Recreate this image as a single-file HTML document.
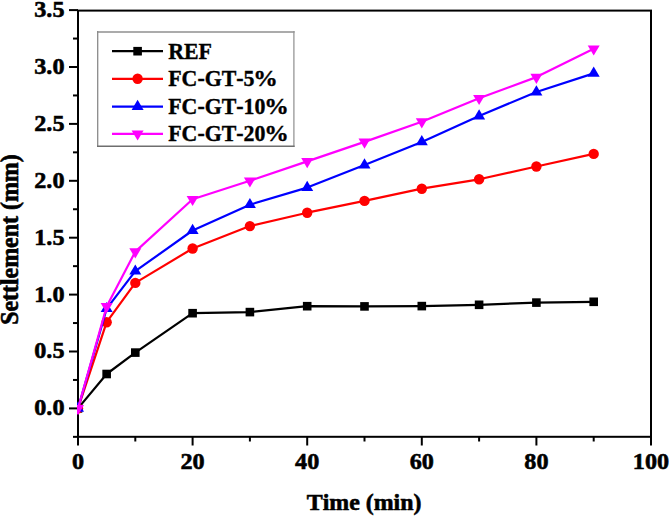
<!DOCTYPE html><html><head><meta charset="utf-8"><style>html,body{margin:0;padding:0;background:#fff;}svg{display:block;}</style></head><body>
<svg width="669" height="516" viewBox="0 0 669 516" font-family='"Liberation Serif", serif' font-weight="bold">
<rect width="669" height="516" fill="#fff"/>
<style>text{stroke:#000;stroke-width:0.6;paint-order:stroke;font-kerning:none;} .lg text{stroke-width:0.35;}</style>
<defs><clipPath id="pc"><rect x="77" y="0" width="600" height="438"/></clipPath></defs>
<line x1="69" y1="408.40" x2="78.00" y2="408.40" stroke="#000" stroke-width="2"/>
<text transform="translate(64.50,415.35) scale(1,0.950)" font-size="24.2" text-anchor="end">0.0</text>
<line x1="69" y1="351.50" x2="78.00" y2="351.50" stroke="#000" stroke-width="2"/>
<text transform="translate(64.50,358.45) scale(1,0.950)" font-size="24.2" text-anchor="end">0.5</text>
<line x1="69" y1="294.60" x2="78.00" y2="294.60" stroke="#000" stroke-width="2"/>
<text transform="translate(64.50,301.55) scale(1,0.950)" font-size="24.2" text-anchor="end">1.0</text>
<line x1="69" y1="237.70" x2="78.00" y2="237.70" stroke="#000" stroke-width="2"/>
<text transform="translate(64.50,244.65) scale(1,0.950)" font-size="24.2" text-anchor="end">1.5</text>
<line x1="69" y1="180.80" x2="78.00" y2="180.80" stroke="#000" stroke-width="2"/>
<text transform="translate(64.50,187.75) scale(1,0.950)" font-size="24.2" text-anchor="end">2.0</text>
<line x1="69" y1="123.90" x2="78.00" y2="123.90" stroke="#000" stroke-width="2"/>
<text transform="translate(64.50,130.85) scale(1,0.950)" font-size="24.2" text-anchor="end">2.5</text>
<line x1="69" y1="67.00" x2="78.00" y2="67.00" stroke="#000" stroke-width="2"/>
<text transform="translate(64.50,73.95) scale(1,0.950)" font-size="24.2" text-anchor="end">3.0</text>
<line x1="69" y1="10.10" x2="78.00" y2="10.10" stroke="#000" stroke-width="2"/>
<text transform="translate(64.50,17.05) scale(1,0.950)" font-size="24.2" text-anchor="end">3.5</text>
<line x1="73" y1="436.85" x2="78.00" y2="436.85" stroke="#000" stroke-width="2"/>
<line x1="73" y1="379.95" x2="78.00" y2="379.95" stroke="#000" stroke-width="2"/>
<line x1="73" y1="323.05" x2="78.00" y2="323.05" stroke="#000" stroke-width="2"/>
<line x1="73" y1="266.15" x2="78.00" y2="266.15" stroke="#000" stroke-width="2"/>
<line x1="73" y1="209.25" x2="78.00" y2="209.25" stroke="#000" stroke-width="2"/>
<line x1="73" y1="152.35" x2="78.00" y2="152.35" stroke="#000" stroke-width="2"/>
<line x1="73" y1="95.45" x2="78.00" y2="95.45" stroke="#000" stroke-width="2"/>
<line x1="73" y1="38.55" x2="78.00" y2="38.55" stroke="#000" stroke-width="2"/>
<line x1="78.00" y1="436.80" x2="78.00" y2="445.5" stroke="#000" stroke-width="2"/>
<text transform="translate(78.00,468.60) scale(1,0.950)" font-size="24.2" text-anchor="middle">0</text>
<line x1="192.60" y1="436.80" x2="192.60" y2="445.5" stroke="#000" stroke-width="2"/>
<text transform="translate(192.60,468.60) scale(1,0.950)" font-size="24.2" text-anchor="middle">20</text>
<line x1="307.20" y1="436.80" x2="307.20" y2="445.5" stroke="#000" stroke-width="2"/>
<text transform="translate(307.20,468.60) scale(1,0.950)" font-size="24.2" text-anchor="middle">40</text>
<line x1="421.80" y1="436.80" x2="421.80" y2="445.5" stroke="#000" stroke-width="2"/>
<text transform="translate(421.80,468.60) scale(1,0.950)" font-size="24.2" text-anchor="middle">60</text>
<line x1="536.40" y1="436.80" x2="536.40" y2="445.5" stroke="#000" stroke-width="2"/>
<text transform="translate(536.40,468.60) scale(1,0.950)" font-size="24.2" text-anchor="middle">80</text>
<line x1="651.00" y1="436.80" x2="651.00" y2="445.5" stroke="#000" stroke-width="2"/>
<text transform="translate(651.00,468.60) scale(1,0.950)" font-size="24.2" text-anchor="middle">100</text>
<line x1="135.30" y1="436.80" x2="135.30" y2="441.5" stroke="#000" stroke-width="2"/>
<line x1="249.90" y1="436.80" x2="249.90" y2="441.5" stroke="#000" stroke-width="2"/>
<line x1="364.50" y1="436.80" x2="364.50" y2="441.5" stroke="#000" stroke-width="2"/>
<line x1="479.10" y1="436.80" x2="479.10" y2="441.5" stroke="#000" stroke-width="2"/>
<line x1="593.70" y1="436.80" x2="593.70" y2="441.5" stroke="#000" stroke-width="2"/>
<rect x="78.00" y="10.60" width="573.00" height="426.20" fill="none" stroke="#000" stroke-width="2"/>
<text transform="translate(364.10,509.60) scale(1,1.000)" font-size="23.9" text-anchor="middle">Time (min)</text>
<text transform="translate(18.30,239.60) rotate(-90) scale(1,1.040)" font-size="23.9" text-anchor="middle">Settlement (mm)</text>
<g clip-path="url(#pc)">
<polyline points="78.00,408.40 106.65,374.00 135.30,352.60 192.60,313.20 249.90,312.10 307.20,306.20 364.50,306.40 421.80,306.10 479.10,304.80 536.40,302.60 593.70,301.80" fill="none" stroke="#000" stroke-width="2.2" stroke-linejoin="round"/>
<rect x="73.70" y="404.10" width="8.60" height="8.60" fill="#000"/>
<rect x="102.35" y="369.70" width="8.60" height="8.60" fill="#000"/>
<rect x="131.00" y="348.30" width="8.60" height="8.60" fill="#000"/>
<rect x="188.30" y="308.90" width="8.60" height="8.60" fill="#000"/>
<rect x="245.60" y="307.80" width="8.60" height="8.60" fill="#000"/>
<rect x="302.90" y="301.90" width="8.60" height="8.60" fill="#000"/>
<rect x="360.20" y="302.10" width="8.60" height="8.60" fill="#000"/>
<rect x="417.50" y="301.80" width="8.60" height="8.60" fill="#000"/>
<rect x="474.80" y="300.50" width="8.60" height="8.60" fill="#000"/>
<rect x="532.10" y="298.30" width="8.60" height="8.60" fill="#000"/>
<rect x="589.40" y="297.50" width="8.60" height="8.60" fill="#000"/>
<polyline points="78.00,408.40 106.65,322.20 135.30,282.90 192.60,248.50 249.90,226.10 307.20,212.70 364.50,200.90 421.80,188.70 479.10,179.30 536.40,166.50 593.70,153.90" fill="none" stroke="#f00" stroke-width="2.2" stroke-linejoin="round"/>
<circle cx="78.00" cy="408.40" r="5.20" fill="#f00"/>
<circle cx="106.65" cy="322.20" r="5.20" fill="#f00"/>
<circle cx="135.30" cy="282.90" r="5.20" fill="#f00"/>
<circle cx="192.60" cy="248.50" r="5.20" fill="#f00"/>
<circle cx="249.90" cy="226.10" r="5.20" fill="#f00"/>
<circle cx="307.20" cy="212.70" r="5.20" fill="#f00"/>
<circle cx="364.50" cy="200.90" r="5.20" fill="#f00"/>
<circle cx="421.80" cy="188.70" r="5.20" fill="#f00"/>
<circle cx="479.10" cy="179.30" r="5.20" fill="#f00"/>
<circle cx="536.40" cy="166.50" r="5.20" fill="#f00"/>
<circle cx="593.70" cy="153.90" r="5.20" fill="#f00"/>
<polyline points="78.00,408.40 106.65,308.70 135.30,271.20 192.60,230.50 249.90,204.70 307.20,187.60 364.50,165.10 421.80,141.90 479.10,116.00 536.40,92.00 593.70,73.40" fill="none" stroke="#00f" stroke-width="2.2" stroke-linejoin="round"/>
<polygon points="78.00,401.60 72.00,411.80 84.00,411.80" fill="#00f"/>
<polygon points="106.65,301.90 100.65,312.10 112.65,312.10" fill="#00f"/>
<polygon points="135.30,264.40 129.30,274.60 141.30,274.60" fill="#00f"/>
<polygon points="192.60,223.70 186.60,233.90 198.60,233.90" fill="#00f"/>
<polygon points="249.90,197.90 243.90,208.10 255.90,208.10" fill="#00f"/>
<polygon points="307.20,180.80 301.20,191.00 313.20,191.00" fill="#00f"/>
<polygon points="364.50,158.30 358.50,168.50 370.50,168.50" fill="#00f"/>
<polygon points="421.80,135.10 415.80,145.30 427.80,145.30" fill="#00f"/>
<polygon points="479.10,109.20 473.10,119.40 485.10,119.40" fill="#00f"/>
<polygon points="536.40,85.20 530.40,95.40 542.40,95.40" fill="#00f"/>
<polygon points="593.70,66.60 587.70,76.80 599.70,76.80" fill="#00f"/>
<polyline points="78.00,408.40 106.65,306.50 135.30,251.60 192.60,199.30 249.90,180.80 307.20,161.40 364.50,141.90 421.80,121.70 479.10,98.30 536.40,77.10 593.70,48.80" fill="none" stroke="#f0f" stroke-width="2.2" stroke-linejoin="round"/>
<polygon points="72.00,405.00 84.00,405.00 78.00,415.20" fill="#f0f"/>
<polygon points="100.65,303.10 112.65,303.10 106.65,313.30" fill="#f0f"/>
<polygon points="129.30,248.20 141.30,248.20 135.30,258.40" fill="#f0f"/>
<polygon points="186.60,195.90 198.60,195.90 192.60,206.10" fill="#f0f"/>
<polygon points="243.90,177.40 255.90,177.40 249.90,187.60" fill="#f0f"/>
<polygon points="301.20,158.00 313.20,158.00 307.20,168.20" fill="#f0f"/>
<polygon points="358.50,138.50 370.50,138.50 364.50,148.70" fill="#f0f"/>
<polygon points="415.80,118.30 427.80,118.30 421.80,128.50" fill="#f0f"/>
<polygon points="473.10,94.90 485.10,94.90 479.10,105.10" fill="#f0f"/>
<polygon points="530.40,73.70 542.40,73.70 536.40,83.90" fill="#f0f"/>
<polygon points="587.70,45.40 599.70,45.40 593.70,55.60" fill="#f0f"/>
</g>
<line x1="97" y1="32.0" x2="294.6" y2="32.0" stroke="#ababab" stroke-width="1.8"/>
<line x1="97.7" y1="31.1" x2="97.7" y2="146.9" stroke="#8a8a8a" stroke-width="1.3"/>
<line x1="293.9" y1="31.1" x2="293.9" y2="146.9" stroke="#969696" stroke-width="1.3"/>
<line x1="97" y1="146.2" x2="294.6" y2="146.2" stroke="#6e6e6e" stroke-width="1.4"/>
<g class="lg">
<line x1="112" y1="51.20" x2="163" y2="51.20" stroke="#000" stroke-width="2.2"/>
<rect x="133.30" y="46.90" width="8.60" height="8.60" fill="#000"/>
<text transform="translate(168.20,58.80) scale(1,1.030)" font-size="21.9" text-anchor="start">REF</text>
<line x1="112" y1="78.80" x2="163" y2="78.80" stroke="#f00" stroke-width="2.2"/>
<circle cx="137.60" cy="78.80" r="5.20" fill="#f00"/>
<text transform="translate(168.20,86.40) scale(1,1.030)" font-size="21.9" text-anchor="start">FC-GT-5</text>
<text transform="translate(253.37,86.40) scale(1.120,1.030)" font-size="21.9">%</text>
<line x1="112" y1="106.60" x2="163" y2="106.60" stroke="#00f" stroke-width="2.2"/>
<polygon points="137.60,99.80 131.60,110.00 143.60,110.00" fill="#00f"/>
<text transform="translate(168.20,114.20) scale(1,1.030)" font-size="21.9" text-anchor="start">FC-GT-10</text>
<text transform="translate(264.32,114.20) scale(1.120,1.030)" font-size="21.9">%</text>
<line x1="112" y1="133.80" x2="163" y2="133.80" stroke="#f0f" stroke-width="2.2"/>
<polygon points="131.60,130.40 143.60,130.40 137.60,140.60" fill="#f0f"/>
<text transform="translate(168.20,141.40) scale(1,1.030)" font-size="21.9" text-anchor="start">FC-GT-20</text>
<text transform="translate(264.32,141.40) scale(1.120,1.030)" font-size="21.9">%</text>
</g>
</svg></body></html>
